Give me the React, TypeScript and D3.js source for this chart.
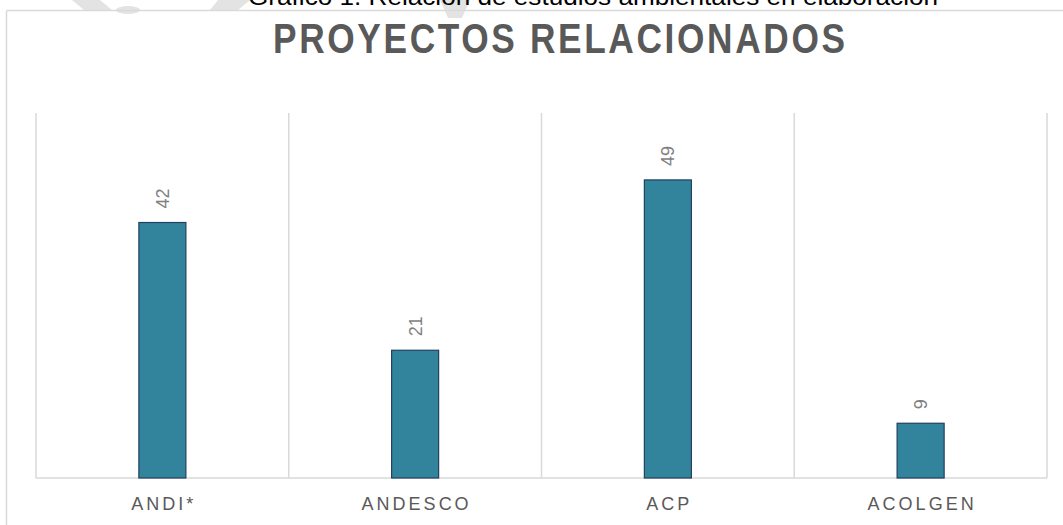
import React from "react";
import * as d3 from "d3";

const categories: string[] = ["ANDI*", "ANDESCO", "ACP", "ACOLGEN"];
const values: number[] = [42, 21, 49, 9];
const yMax = 60;
const chartTitle = "PROYECTOS RELACIONADOS";
const caption = "Gráfico 1. Relación de estudios ambientales en elaboración";

const W = 1063;
const H = 525;
const plot = { left: 36, right: 1047, top: 113, bottom: 478 };

export default function App() {
  const x = d3
    .scaleBand<string>()
    .domain(categories)
    .range([plot.left, plot.right])
    .paddingInner(0)
    .paddingOuter(0);
  const y = d3.scaleLinear().domain([0, yMax]).range([plot.bottom, plot.top]);
  const barW = x.step() * 0.186;
  const grid = "#d9d9d9";
  const boundaries = [...categories.map((c) => x(c) as number), plot.right];
  const k = 0.84;

  return (
    <svg
      width={W}
      height={H}
      style={{ position: "absolute", left: 0, top: 0, background: "#fff" }}
      fontFamily="'Liberation Sans', Arial, sans-serif"
    >
      {/* watermark fragments */}
      <g fill="#e3e3e3">
        <polygon points="72,0 100,0 112,10 84,10" />
        <polygon points="218,0 250,0 238,10 210,10" />
        <polygon points="440,0 470,0 462,18 448,18" />
        <ellipse cx={128} cy={10} rx={12} ry={4} />
      </g>
      <text
        x={248}
        y={5}
        fontSize={23}
        fill="#000"
        textLength={690}
        lengthAdjust="spacingAndGlyphs"
        fontFamily="Arial, 'Liberation Sans', sans-serif"
      >
        {caption}
      </text>
      {/* outer frame */}
      <line x1={6.5} x2={W} y1={10.5} y2={10.5} stroke={grid} strokeWidth={1.5} />
      <line x1={6.5} x2={6.5} y1={10.5} y2={H} stroke={grid} strokeWidth={1.5} />

      <text
        transform={`translate(273,53) scale(${k},1)`}
        fontSize={42}
        fontWeight="bold"
        letterSpacing={3.6}
        textLength={575 / k}
        lengthAdjust="spacing"
        fill="#595959"
      >
        {chartTitle}
      </text>

      {/* vertical gridlines */}
      {boundaries.map((bx, i) => (
        <line
          key={i}
          x1={bx}
          x2={bx}
          y1={plot.top}
          y2={plot.bottom}
          stroke={grid}
          strokeWidth={1.5}
        />
      ))}
      {/* baseline */}
      <line
        x1={plot.left}
        x2={plot.right}
        y1={y(0)}
        y2={y(0)}
        stroke={grid}
        strokeWidth={1.5}
      />

      {categories.map((c, i) => {
        const cx = (x(c) as number) + x.bandwidth() / 2;
        const top = y(values[i]);
        return (
          <g key={c}>
            <rect
              x={cx - barW / 2}
              y={top}
              width={barW}
              height={y(0) - top}
              fill="#31849b"
              stroke="#243f60"
              strokeWidth={1.2}
            />
            <text
              transform={`translate(${cx + 6.5},${top - 14}) rotate(-90)`}
              fontSize={18}
              fill="#7f7f7f"
              textAnchor="start"
            >
              {values[i]}
            </text>
            <text
              x={cx + 1.5}
              y={510}
              textAnchor="middle"
              fontSize={18}
              letterSpacing={3}
              fill="#595959"
            >
              {c}
            </text>
          </g>
        );
      })}
    </svg>
  );
}
